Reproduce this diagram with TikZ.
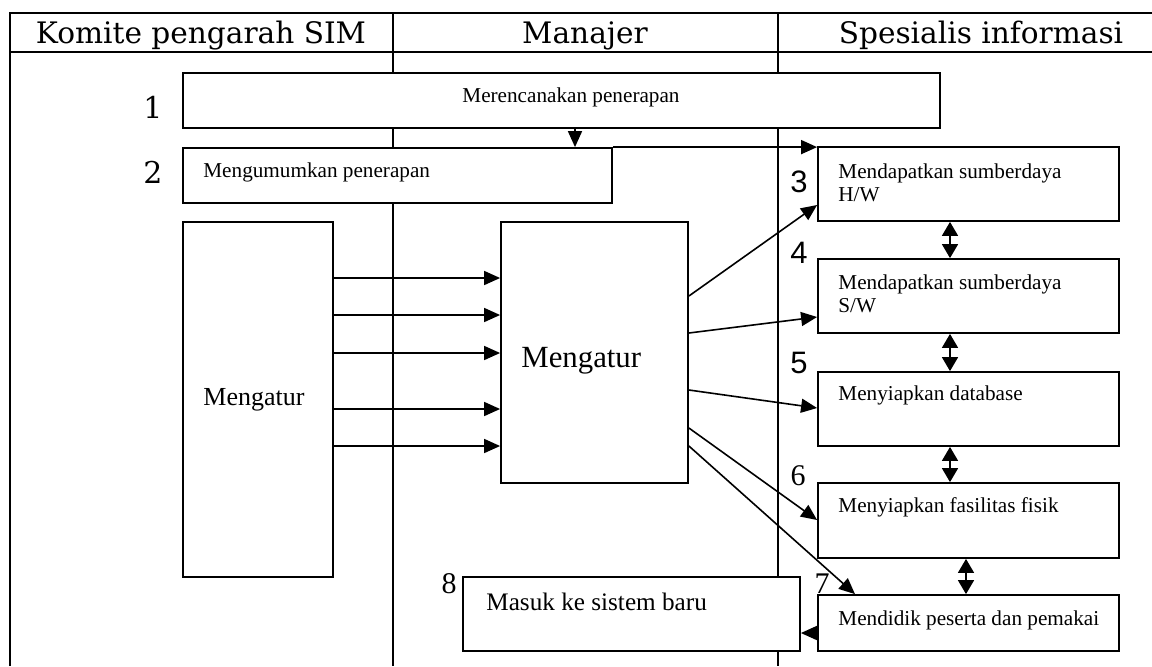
\documentclass[tikz,border=0pt]{standalone}
\usepackage{fontspec}
\setmainfont{Liberation Serif}
\newfontfamily\hdrfont{DejaVu Serif}
\newfontfamily\arialfont{Liberation Sans}
\usetikzlibrary{arrows.meta,fit}
\begin{document}
\begin{tikzpicture}[x=0.5pt,y=-0.5pt,
  frame/.style={line width=1pt},
  box/.style={draw,fill=white,line width=0.9pt,inner sep=0pt},
  txt/.style={inner sep=0pt,font=\fontsize{10.6}{11.5}\selectfont},
  hdr/.style={inner sep=0pt,anchor=base,font=\hdrfont\fontsize{14.8}{17}\selectfont},
  numA/.style={inner sep=0pt,anchor=base,font=\hdrfont\fontsize{15}{17}\selectfont},
  numB/.style={inner sep=0pt,anchor=base,font=\arialfont\fontsize{15.5}{17}\selectfont},
  numC/.style={inner sep=0pt,anchor=base,font=\fontsize{15}{17}\selectfont},
  arr/.style={line width=0.8pt,-{Triangle[length=8pt,width=7pt]}},
  darr/.style={line width=0.8pt,{Triangle[length=7pt,width=8pt]}-{Triangle[length=7pt,width=8pt]}},
]
\useasboundingbox (0,0) rectangle (1152,666);
% frame and lanes
\draw[frame] (10,666) -- (10,13) -- (1152,13);
\draw[frame] (10,52) -- (1152,52);
\draw[frame] (393,13) -- (393,666);
\draw[frame] (778,13) -- (778,666);
% headers
\node[hdr] (h1) at (201,43) {Komite pengarah SIM};
\node[hdr] (h2) at (585,43) {Manajer};
\node[hdr] (h3) at (981,43) {Spesialis informasi};
% boxes
\node[box,fit={(183,73)(940,128)}] (b1) {};
\node[box,fit={(183,148)(612,203)}] (b2) {};
\node[box,fit={(818,147)(1119,221)}] (b3) {};
\node[box,fit={(818,259)(1119,333)}] (b4) {};
\node[box,fit={(818,372)(1119,446)}] (b5) {};
\node[box,fit={(818,483)(1119,558)}] (b6) {};
\node[box,fit={(818,595)(1119,651)}] (b7) {};
\node[box,fit={(183,222)(333,577)}] (lm) {};
\node[box,fit={(501,222)(688,483)}] (mm) {};
\node[box,fit={(463,577)(800,651)}] (b8) {};
% texts
\node[txt,anchor=base west] (t1) at (462,102) {Merencanakan penerapan};
\node[txt,anchor=base west] (t2) at (203,177) {Mengumumkan penerapan};
\node[txt,anchor=north west,align=left] (t3) at (838,163) {Mendapatkan sumberdaya\\H/W};
\node[txt,anchor=north west,align=left] (t4) at (838,274) {Mendapatkan sumberdaya\\S/W};
\node[txt,anchor=base west] (t5) at (838,400) {Menyiapkan database};
\node[txt,anchor=base west] (t6) at (838,512) {Menyiapkan fasilitas fisik};
\node[txt,anchor=base west] (t7) at (838,625) {Mendidik peserta dan pemakai};
\node[inner sep=0pt,anchor=base west,font=\fontsize{13}{15}\selectfont] (tlm) at (203,405) {Mengatur};
\node[inner sep=0pt,anchor=base west,font=\fontsize{15.4}{17}\selectfont] (tmm) at (521,367) {Mengatur};
\node[inner sep=0pt,anchor=base west,font=\fontsize{12.6}{14}\selectfont] (t8) at (486,610) {Masuk ke sistem baru};
% numbers
\node[numA] (n1) at (153,118) {1};
\node[numA] (n2) at (153,183) {2};
\node[numB] (n3) at (799,192) {3};
\node[numB] (n4) at (799,263) {4};
\node[numB] (n5) at (799,373) {5};
\node[numC] (n6) at (798,485) {6};
\node[numC] (n7) at (822,593) {7};
\node[numC] (n8) at (449,593) {8};
% helper coordinates
\coordinate (c12) at (575,0);
\coordinate (v1) at (950,0);
\coordinate (v2) at (966,0);
\coordinate (h1y) at (0,278);
\coordinate (h2y) at (0,315);
\coordinate (h3y) at (0,353);
\coordinate (h4y) at (0,409);
\coordinate (h5y) at (0,446);
\coordinate (s3) at (0,296);
\coordinate (e3) at (0,205);
\coordinate (s4) at (0,333);
\coordinate (e4) at (0,317);
\coordinate (s5) at (0,390);
\coordinate (e5) at (0,408);
\coordinate (s6) at (0,428);
\coordinate (e6) at (0,520);
\coordinate (s7) at (0,446);
\coordinate (e7) at (855,0);
\coordinate (a8) at (0,633);
% connectors
\draw[arr] (b1.south -| c12) -- (b2.north -| c12);
\draw[arr] (b2.north east) -- (b3.west |- b2.north);
\foreach \h in {h1y,h2y,h3y,h4y,h5y}{
  \draw[arr] (lm.east |- \h) -- (mm.west |- \h);
}
\draw[arr] (mm.east |- s3) -- (b3.west |- e3);
\draw[arr] (mm.east |- s4) -- (b4.west |- e4);
\draw[arr] (mm.east |- s5) -- (b5.west |- e5);
\draw[arr] (mm.east |- s6) -- (b6.west |- e6);
\draw[arr] (mm.east |- s7) -- (b7.north -| e7);
\draw[darr] (b3.south -| v1) -- (b4.north -| v1);
\draw[darr] (b4.south -| v1) -- (b5.north -| v1);
\draw[darr] (b5.south -| v1) -- (b6.north -| v1);
\draw[darr] (b6.south -| v2) -- (b7.north -| v2);
\draw[arr] (b7.west |- a8) -- (b8.east |- a8);
\end{tikzpicture}
\end{document}
